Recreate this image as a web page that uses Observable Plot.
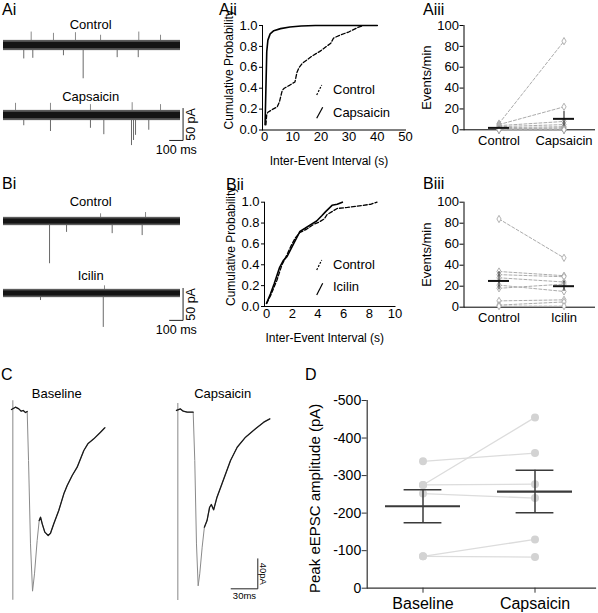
<!DOCTYPE html>
<html><head><meta charset="utf-8">
<script src="https://cdn.jsdelivr.net/npm/d3@7"></script>
<script src="https://cdn.jsdelivr.net/npm/@observablehq/plot@0.6"></script>
<style>
html,body{margin:0;padding:0;background:#fff;}
#fig{position:relative;width:598px;height:613px;overflow:hidden;background:#fff;}
#fig svg{position:absolute;left:0;top:0;overflow:visible;max-width:none;}
</style></head><body><div id="fig"></div>
<script>
// ================= DATA =================
// Ai / Bi spontaneous recordings: [time ms, amplitude pA]
const abDuration = 1311;
const aiControlBand = {outer: 8, inner: 5};
const aiControlDown = [[150,-21],[217,-20],[444,-16],[590,-52],[842,-19],[998,-19]];
const aiControlUp = [[205,21],[370,19],[533,20],[719,16],[1002,21],[1163,16]];
const aiCapsBand = {outer: 8, inner: 5};
const aiCapsDown = [[150,-16],[348,-25],[644,-20],[743,-30],[948,-47],[963,-39],[978,-31],[1076,-23]];
const aiCapsUp = [[89,19],[348,19],[644,17],[953,20],[1163,17]];
const biControlBand = {outer: 6.5, inner: 4};
const biControlDown = [[341,-66],[467,-17],[805,-19],[1027,-22]];
const biControlUp = [[719,12],[1052,14]];
const biIcilinBand = {outer: 6.5, inner: 4};
const biIcilinDown = [[274,-11],[739,-53]];
const biIcilinUp = [[748,12]];
const abScaleBar = {ms: 100, pA: 50};

// Aii cumulative probability: [inter-event interval s, probability]
const aiiControl = [[0.5,0.05],[0.8,0.15],[1.2,0.17],[3,0.2],[4.5,0.22],[5.3,0.27],[6.3,0.38],[7,0.4],[9,0.43],[10.8,0.46],[11.5,0.55],[12.3,0.6],[13.5,0.64],[15,0.67],[17,0.71],[19.5,0.75],[22,0.8],[23.5,0.83],[24.5,0.88],[27,0.91],[30,0.94],[33,0.98],[35,1.0]];
const aiiCapsaicin = [[0.2,0.05],[0.5,0.4],[0.8,0.75],[1.2,0.86],[2,0.92],[3.3,0.95],[5.7,0.97],[9,0.985],[13,0.995],[18,1],[40,1]];
const aiiTicksX = [0,10,20,30,40,50];
// Bii
const biiControl = [[0,0.03],[0.3,0.1],[0.8,0.25],[1.2,0.4],[1.6,0.5],[1.9,0.58],[2.25,0.66],[2.6,0.71],[3.1,0.74],[3.7,0.79],[4.1,0.81],[4.5,0.84],[4.7,0.88],[5.1,0.91],[5.5,0.94],[6.3,0.95],[7.5,0.97],[8.1,0.98],[8.6,1.0]];
const biiIcilin = [[0,0.03],[0.3,0.12],[0.6,0.22],[1,0.37],[1.3,0.44],[1.6,0.48],[2.1,0.6],[2.6,0.72],[3,0.75],[3.5,0.79],[3.9,0.82],[4.3,0.87],[4.6,0.91],[5.1,0.97],[5.5,0.98],[5.9,1.0]];
const biiTicksX = [0,2,4,6,8,10];
const cdfTicksY = [0,0.2,0.4,0.6,0.8,1.0];

// Aiii / Biii events per minute (paired cells)
const aiiiCats = ["Control","Capsaicin"];
const aiiiControl = [6,5,4,3,2,1,1,0,0,0,0,0];
const aiiiCapsaicin = [85,22,8,5,3,2,1,0,0,0,0,0];
const biiiCats = ["Control","Icilin"];
const biiiControl = [84,34,31,28,21,18,6,2,1];
const biiiIcilin = [47,30,29,24,15,22,7,5,1];
const rateTicks = [0,20,40,60,80,100];

// C evoked EPSC traces: [time ms from stimulus, pA]
const cBaseline = [[-1.5,1.3],[3,4.4],[6.8,2.2],[9.4,-0.9],[11.7,0],[14.3,-2.7],[16.2,-1.3],[17.7,-66.7],[19.9,-177.8],[22.2,-240.9],[24.4,-217.8],[27.4,-173.3],[29.7,-146.7],[31.2,-142.2],[33.1,-151.1],[36,-162.2],[39.8,-166.7],[42.4,-163.6],[46.1,-151.1],[51.7,-133.3],[57.4,-111.1],[61.2,-100],[66.8,-86.7],[72.4,-75.6],[79.9,-53.3],[84.4,-44.4],[91.1,-37.8],[98.7,-28.9],[103.5,-23.1]];
const cCapsaicin = [[-1.5,2.3],[3,4.4],[6.1,1.3],[10.6,0],[17.3,0],[19.1,-64.4],[21,-175.6],[22.9,-231.5],[24.7,-215.5],[27.4,-180],[29.9,-153.3],[32.9,-144.4],[35.8,-126.7],[37.7,-123.1],[40.3,-130.2],[44.1,-113.3],[49.7,-95.5],[59.3,-64.4],[66.8,-46.7],[76.2,-33.3],[87.4,-22.1],[96.7,-13.3],[103.5,-8.9]];
const cBaselineArtifact = [13, -253];
const cCapsaicinArtifact = [11.6, -251];
const cScaleBar = {ms: 30, pA: 40};

// D peak eEPSC amplitude (pA), paired
const dCats = ["Baseline","Capsaicin"];
const dBaseline = [-338,-275,-275,-252,-85,-85];
const dCapsaicin = [-360,-455,-277,-240,-130,-83];
const dTicks = [-500,-400,-300,-200,-100,0];

// ================= HELPERS =================
const font = "'Liberation Sans', Arial, Helvetica, sans-serif";
const fig = document.getElementById("fig");
const baseStyle = {position:"absolute", left:"0px", top:"0px", overflow:"visible", maxWidth:"none", background:"transparent", fontFamily:font, fontSize:"13px", color:"#000"};
function place(p){ fig.appendChild(p); }
function framed(l,t,r,b){ return {width:598, height:613, marginLeft:l, marginTop:t, marginRight:598-r, marginBottom:613-b, style: baseStyle}; }
const sem = a => d3.deviation(a)/Math.sqrt(a.length);
function paired(cats, a, b){ return a.flatMap((v,i)=>[{id:i, cond:cats[0], v}, {id:i, cond:cats[1], v:b[i]}]); }
function summary(cats, a, b){ return [{cond:cats[0], mean:d3.mean(a), sem:sem(a)}, {cond:cats[1], mean:d3.mean(b), sem:sem(b)}]; }

// ---------- noise traces (Ai, Bi) ----------
function noiseTrace({yc, band, down, up, bar}) {
  const ky = 0.64; // px per pA
  const marks = [
    Plot.ruleX(down, {x:d=>d[0], y1:()=>0, y2:d=>d[1], stroke:"#6a6a6a", strokeWidth:1}),
    Plot.ruleX(up, {x:d=>d[0], y1:()=>0, y2:d=>d[1], stroke:"#8a8a8a", strokeWidth:1}),
    Plot.rect([band], {x1:()=>0, x2:()=>abDuration, y1:d=>-d.outer, y2:d=>d.outer, fill:"#5c5c5c"}),
    Plot.rect([band], {x1:()=>0, x2:()=>abDuration, y1:d=>-d.inner, y2:d=>d.inner, fill:"#141414"})
  ];
  if (bar) {
    const [bx, by] = bar.anchor;
    const pts = [[bx - abScaleBar.ms, by],[bx, by],[bx, by + abScaleBar.pA]];
    marks.push(
      Plot.line(pts, {x:d=>d[0], y:d=>d[1], stroke:"#222", strokeWidth:1}),
      Plot.text([`${abScaleBar.pA} pA`], {x:()=>bx, y:()=>by + abScaleBar.pA/2, text:d=>d, rotate:-90, dx:8, textAnchor:"middle", fontSize:12.5}),
      Plot.text([`${abScaleBar.ms} ms`], {x:()=>bx - abScaleBar.ms/2, y:()=>by, text:d=>d, dy:10, fontSize:12.5})
    );
  }
  return Plot.plot({
    width:598, height:613, margin:0, style: baseStyle,
    x:{domain:[0, abDuration], range:[3, 180], axis:null},
    y:{domain:[0, -1], range:[yc, yc + ky], axis:null},
    marks
  });
}
place(noiseTrace({yc:45, band:aiControlBand, down:aiControlDown, up:aiControlUp}));
place(noiseTrace({yc:115, band:aiCapsBand, down:aiCapsDown, up:aiCapsUp, bar:{anchor:[1330,-39]}}));
place(noiseTrace({yc:221, band:biControlBand, down:biControlDown, up:biControlUp}));
place(noiseTrace({yc:293, band:biIcilinBand, down:biIcilinDown, up:biIcilinUp, bar:{anchor:[1330,-42]}}));

// ---------- cumulative plots (Aii, Bii) ----------
function cdfPlot({l,t,r,b,xdom,xticks,ctrl,drug}) {
  return Plot.plot({
    ...framed(l,t,r,b),
    x:{domain:xdom}, y:{domain:[0,1]},
    marks:[
      Plot.frame({anchor:"left"}), Plot.frame({anchor:"bottom"}),
      Plot.axisY({ticks:cdfTicksY, tickSize:3, tickPadding:2, tickFormat:d3.format(".1f"), fontSize:13, label:null}),
      Plot.axisX({ticks:xticks, tickSize:0, tickPadding:2, fontSize:13, label:null}),
      Plot.line(ctrl, {x:d=>d[0], y:d=>d[1], stroke:"#000", strokeDasharray:"4,2", strokeWidth:1.3}),
      Plot.line(drug, {x:d=>d[0], y:d=>d[1], stroke:"#000", strokeWidth:1.6}),
      Plot.text(["Inter-Event Interval (s)"], {text:d=>d, frameAnchor:"bottom", dx:-5, dy:35, textAnchor:"middle", fontSize:12}),
      Plot.text(["Cumulative Probability"], {text:d=>d, frameAnchor:"left", dx:-33, dy:-8, rotate:-90, textAnchor:"middle", fontSize:12})
    ]
  });
}
place(cdfPlot({l:262, t:25, r:405, b:129.5, xdom:[-0.71,50], xticks:aiiTicksX, ctrl:aiiControl, drug:aiiCapsaicin}));
place(cdfPlot({l:264, t:201.7, r:394.5, b:306, xdom:[-0.16,10], xticks:biiTicksX, ctrl:biiControl, drug:biiIcilin}));

// ---------- paired rate plots (Aiii, Biii) ----------
function ratePlot({t,b,cats,a,bb}) {
  const long = paired(cats, a, bb);
  const summ = summary(cats, a, bb);
  return Plot.plot({
    ...framed(463.5, t, 594, b),
    x:{type:"band", domain:cats, range:[487.2, 573.8], paddingInner:0.68, paddingOuter:0},
    y:{domain:[0,100]},
    marks:[
      Plot.frame({anchor:"left"}), Plot.frame({anchor:"bottom"}),
      Plot.axisY({ticks:rateTicks, tickSize:4, tickPadding:1, fontSize:13, label:null}),
      Plot.axisX({tickSize:0, tickPadding:6, fontSize:13, label:null}),
      Plot.line(long, {x:"cond", y:"v", z:"id", stroke:"#ababab", strokeDasharray:"3,2", strokeWidth:1}),
      Plot.dot(long, {x:"cond", y:"v", symbol:"diamond", r:2.2, stroke:"#9d9d9d", fill:"white", strokeWidth:0.8}),
      Plot.ruleX(summ, {x:"cond", y1:d=>d.mean-d.sem, y2:d=>d.mean+d.sem, stroke:"#111", strokeWidth:1}),
      Plot.tickY(summ, {x:"cond", y:"mean", stroke:"#111", strokeWidth:2}),
      Plot.text(["Events/min"], {text:d=>d, frameAnchor:"left", dx:-37.5, rotate:-90, textAnchor:"middle", fontSize:13})
    ]
  });
}
place(ratePlot({t:25, b:129.3, cats:aiiiCats, a:aiiiControl, bb:aiiiCapsaicin}));
place(ratePlot({t:201.7, b:306.7, cats:biiiCats, a:biiiControl, bb:biiiIcilin}));

// ---------- evoked traces (C) ----------
function evoked({trace, x0, y0, artifact, bar}) {
  const marks = [
    Plot.ruleX([artifact], {x:()=>0, y1:d=>d[0], y2:d=>d[1], stroke:"#9c9c9c", strokeWidth:1.2}),
    Plot.line(trace, {x:d=>d[0], y:d=>d[1], stroke:"#8a8a8a", strokeWidth:1}),
    Plot.line(trace, {x:d=>d[0], y:d=>(d[0] > 17.5 && d[0] < 29) ? NaN : d[1], stroke:"#1a1a1a", strokeWidth:1.3})
  ];
  if (bar) {
    const [bx, by] = bar;
    const pts = [[bx - cScaleBar.ms, by],[bx, by],[bx, by + cScaleBar.pA]];
    marks.push(
      Plot.line(pts, {x:d=>d[0], y:d=>d[1], stroke:"#222", strokeWidth:1}),
      Plot.text([`${cScaleBar.pA}pA`], {x:()=>bx, y:()=>by + cScaleBar.pA/2, text:d=>d, rotate:90, dx:5, textAnchor:"middle", fontSize:9.5}),
      Plot.text([`${cScaleBar.ms}ms`], {x:()=>bx - cScaleBar.ms/2, y:()=>by, text:d=>d, dy:7, fontSize:9.5})
    );
  }
  return Plot.plot({
    width:598, height:613, margin:0, style: baseStyle,
    x:{domain:[0,100], range:[x0, x0 + 88.9], axis:null},
    y:{domain:[0,-100], range:[y0, y0 + 75], axis:null},
    marks
  });
}
place(evoked({trace:cBaseline, x0:12.3, y0:410, artifact:cBaselineArtifact}));
place(evoked({trace:cCapsaicin, x0:177.3, y0:411.7, artifact:cCapsaicinArtifact, bar:[90,-235.5]}));

// ---------- D ----------
{
  const long = paired(dCats, dBaseline, dCapsaicin);
  const summ = summary(dCats, dBaseline, dCapsaicin);
  place(Plot.plot({
    ...framed(366.7, 400, 595, 587.7),
    x:{type:"band", domain:dCats, range:[384.8, 572.5], paddingInner:0.3345, paddingOuter:0},
    y:{domain:[0,-500]},
    marks:[
      Plot.frame({anchor:"left", stroke:"#333", strokeWidth:1.2}), Plot.frame({anchor:"bottom", stroke:"#333", strokeWidth:1.2}),
      Plot.axisY({ticks:dTicks, tickSize:5, tickPadding:1, tickFormat:d=>String(d), fontSize:14, label:null, stroke:"#333"}),
      Plot.axisX({tickSize:5, tickPadding:4, fontSize:16, label:null, stroke:"#333"}),
      Plot.line(long, {x:"cond", y:"v", z:"id", stroke:"#dcdcdc", strokeWidth:1.3}),
      Plot.dot(long, {x:"cond", y:"v", r:4, fill:"#d3d3d3", stroke:"none"}),
      Plot.ruleX(summ, {x:"cond", y1:d=>d.mean-d.sem, y2:d=>d.mean+d.sem, stroke:"#3a3a3a", strokeWidth:1.5}),
      Plot.tickY(summ, {x:"cond", y:d=>d.mean-d.sem, inset:18.6, stroke:"#3a3a3a", strokeWidth:1.5}),
      Plot.tickY(summ, {x:"cond", y:d=>d.mean+d.sem, inset:18.6, stroke:"#3a3a3a", strokeWidth:1.5}),
      Plot.tickY(summ, {x:"cond", y:"mean", stroke:"#3a3a3a", strokeWidth:2.2}),
      Plot.text(["Peak eEPSC amplitude (pA)"], {text:d=>d, frameAnchor:"left", dx:-51.7, dy:4, rotate:-90, textAnchor:"middle", fontSize:15})
    ]
  }));
}

// ---------- labels overlay ----------
const ov = d3.select(fig).append("svg").attr("width",598).attr("height",613)
  .style("position","absolute").style("left","0px").style("top","0px").style("overflow","visible")
  .attr("font-family", font);
function txt(x,y,s,size,anchor="start"){ ov.append("text").attr("x",x).attr("y",y).attr("font-size",size).attr("text-anchor",anchor).attr("fill","#000").text(s); }
function seg(x1,y1,x2,y2,dash){ ov.append("line").attr("x1",x1).attr("y1",y1).attr("x2",x2).attr("y2",y2).attr("stroke","#000").attr("stroke-width",1.2).attr("stroke-dasharray",dash||null); }
// panel letters
txt(2,15,"Ai",16); txt(219,15,"Aii",16); txt(423,15,"Aiii",16);
txt(2,189,"Bi",16); txt(226,190,"Bii",16); txt(423,189,"Biii",16);
txt(1,380,"C",16); txt(305,380,"D",16);
// trace titles
txt(90.7,29,"Control",13,"middle"); txt(90.7,101,"Capsaicin",13,"middle");
txt(90.7,206,"Control",13,"middle"); txt(90.7,280,"Icilin",13,"middle");
txt(56.7,397.5,"Baseline",13,"middle"); txt(222.7,397.5,"Capsaicin",13,"middle");
// legends Aii
seg(316.7,95,321.7,85,"2,1.5"); txt(333,94.3,"Control",13);
seg(316.7,118.3,322.7,107.3); txt(333,117,"Capsaicin",13);
// legends Bii
seg(316.7,270,321.7,260,"2,1.5"); txt(333,269.3,"Control",13);
seg(316.7,295,322.7,283.3); txt(333,291,"Icilin",13);
</script></body></html>
